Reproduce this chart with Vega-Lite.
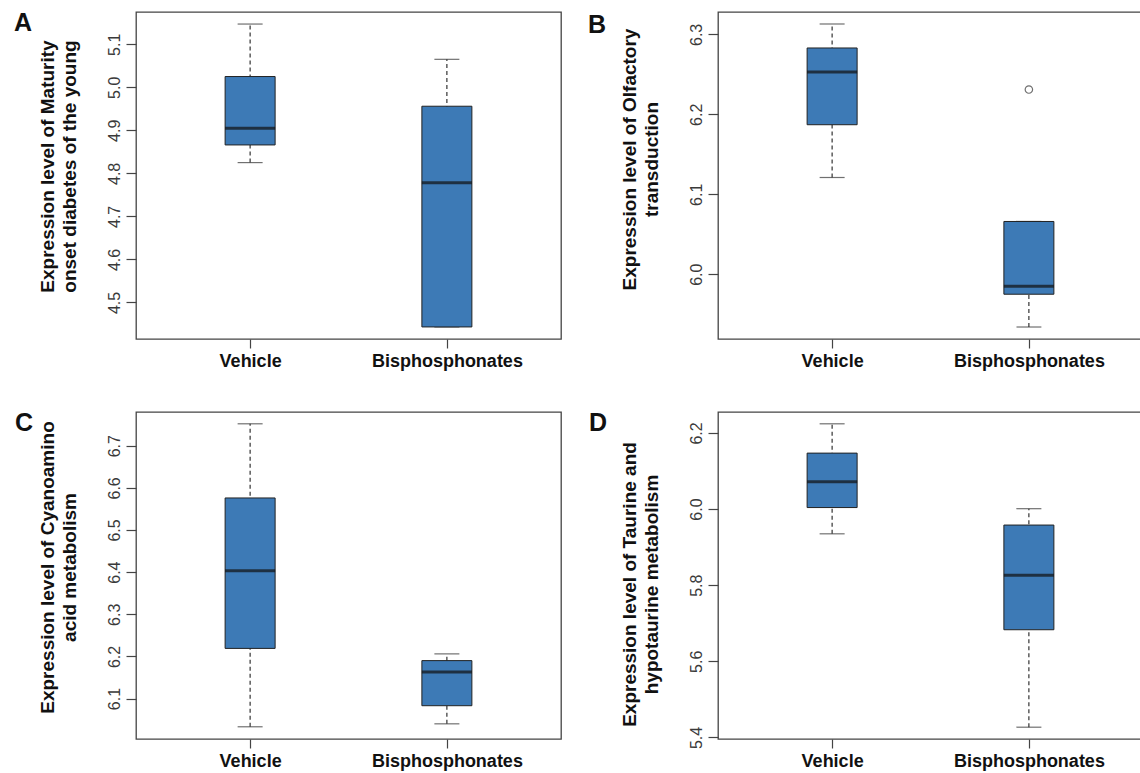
{
  "$schema": "https://vega.github.io/schema/vega-lite/v6.json",
  "background": "white",
  "padding": {"left": 13, "top": 10, "right": 0, "bottom": 0},
  "datasets": {
    "stats": [
      {"panel": "A", "group": "Vehicle", "lower": 4.825, "q1": 4.866, "median": 4.905, "q3": 5.025, "upper": 5.147},
      {"panel": "A", "group": "Bisphosphonates", "lower": 4.443, "q1": 4.443, "median": 4.778, "q3": 4.956, "upper": 5.065},
      {"panel": "B", "group": "Vehicle", "lower": 6.121, "q1": 6.187, "median": 6.253, "q3": 6.283, "upper": 6.313},
      {"panel": "B", "group": "Bisphosphonates", "lower": 5.934, "q1": 5.975, "median": 5.985, "q3": 6.066, "upper": 6.066},
      {"panel": "C", "group": "Vehicle", "lower": 6.033, "q1": 6.219, "median": 6.403, "q3": 6.576, "upper": 6.752},
      {"panel": "C", "group": "Bisphosphonates", "lower": 6.040, "q1": 6.083, "median": 6.163, "q3": 6.190, "upper": 6.206},
      {"panel": "D", "group": "Vehicle", "lower": 5.935, "q1": 6.004, "median": 6.072, "q3": 6.147, "upper": 6.224},
      {"panel": "D", "group": "Bisphosphonates", "lower": 5.427, "q1": 5.683, "median": 5.826, "q3": 5.958, "upper": 6.001}
    ],
    "outliers": [
      {"panel": "B", "group": "Bisphosphonates", "value": 6.231}
    ]
  },
  "concat": [
    {
      "title": {"text": "A", "anchor": "start", "frame": "group", "baseline": "top", "offset": 0, "dx": -122, "dy": 24, "fontSize": 25, "fontWeight": "bold", "color": "#111"},
      "width": 425, "height": 327,
      "data": {"name": "stats"},
      "transform": [{"filter": "datum.panel === 'A'"}],
      "encoding": {"x": {"field": "group", "type": "nominal", "sort": ["Vehicle", "Bisphosphonates"], "scale": {"type": "point", "padding": 0.58}, "title": null}},
      "layer": [
        {"mark": {"type": "rule", "strokeDash": [4, 3], "color": "#333", "strokeWidth": 1.2},
         "encoding": {"y": {"field": "lower", "type": "quantitative", "scale": {"domain": [4.415, 5.175], "nice": false, "zero": false},
           "axis": {"values": [4.5, 4.6, 4.7, 4.8, 4.9, 5.0, 5.1], "format": ".1f", "titleY": 154},
           "title": ["Expression level of Maturity", "onset diabetes of the young"]}, "y2": {"field": "upper"}}},
        {"mark": {"type": "tick", "size": 25, "thickness": 1.2, "color": "#333", "orient": "horizontal"}, "encoding": {"y": {"field": "lower", "type": "quantitative", "title": ["Expression level of Maturity", "onset diabetes of the young"]}}},
        {"mark": {"type": "tick", "size": 25, "thickness": 1.2, "color": "#333", "orient": "horizontal"}, "encoding": {"y": {"field": "upper", "type": "quantitative", "title": ["Expression level of Maturity", "onset diabetes of the young"]}}},
        {"mark": {"type": "bar", "width": 50, "fill": "#3d7ab6", "stroke": "#222", "strokeWidth": 1}, "encoding": {"y": {"field": "q1", "type": "quantitative", "title": ["Expression level of Maturity", "onset diabetes of the young"]}, "y2": {"field": "q3"}}},
        {"mark": {"type": "tick", "size": 50, "thickness": 3, "color": "#111", "orient": "horizontal"}, "encoding": {"y": {"field": "median", "type": "quantitative", "title": ["Expression level of Maturity", "onset diabetes of the young"]}}}
      ]
    },
    {
      "title": {"text": "B", "anchor": "start", "frame": "group", "baseline": "top", "offset": 0, "dx": -130, "dy": 26, "fontSize": 25, "fontWeight": "bold", "color": "#111"},
      "width": 425, "height": 327,
      "data": {"name": "stats"},
      "transform": [{"filter": "datum.panel === 'B'"}],
      "encoding": {"x": {"field": "group", "type": "nominal", "sort": ["Vehicle", "Bisphosphonates"], "scale": {"type": "point", "padding": 0.58}, "title": null}},
      "layer": [
        {"mark": {"type": "rule", "strokeDash": [4, 3], "color": "#333", "strokeWidth": 1.2},
         "encoding": {"y": {"field": "lower", "type": "quantitative", "scale": {"domain": [5.919, 6.328], "nice": false, "zero": false},
           "axis": {"values": [6.0, 6.1, 6.2, 6.3], "format": ".1f", "titleY": 147},
           "title": ["Expression level of Olfactory", "transduction"]}, "y2": {"field": "upper"}}},
        {"mark": {"type": "tick", "size": 25, "thickness": 1.2, "color": "#333", "orient": "horizontal"}, "encoding": {"y": {"field": "lower", "type": "quantitative", "title": ["Expression level of Olfactory", "transduction"]}}},
        {"mark": {"type": "tick", "size": 25, "thickness": 1.2, "color": "#333", "orient": "horizontal"}, "encoding": {"y": {"field": "upper", "type": "quantitative", "title": ["Expression level of Olfactory", "transduction"]}}},
        {"mark": {"type": "bar", "width": 50, "fill": "#3d7ab6", "stroke": "#222", "strokeWidth": 1}, "encoding": {"y": {"field": "q1", "type": "quantitative", "title": ["Expression level of Olfactory", "transduction"]}, "y2": {"field": "q3"}}},
        {"mark": {"type": "tick", "size": 50, "thickness": 3, "color": "#111", "orient": "horizontal"}, "encoding": {"y": {"field": "median", "type": "quantitative", "title": ["Expression level of Olfactory", "transduction"]}}},
        {"data": {"name": "outliers"}, "transform": [{"filter": "datum.panel === 'B'"}],
         "mark": {"type": "point", "filled": false, "stroke": "#333", "strokeWidth": 1.2, "size": 55, "shape": "circle"},
         "encoding": {"y": {"field": "value", "type": "quantitative", "title": ["Expression level of Olfactory", "transduction"]}}}
      ]
    },
    {
      "title": {"text": "C", "anchor": "start", "frame": "group", "baseline": "top", "offset": 0, "dx": -121, "dy": 24, "fontSize": 25, "fontWeight": "bold", "color": "#111"},
      "width": 425, "height": 327,
      "data": {"name": "stats"},
      "transform": [{"filter": "datum.panel === 'C'"}],
      "encoding": {"x": {"field": "group", "type": "nominal", "sort": ["Vehicle", "Bisphosphonates"], "scale": {"type": "point", "padding": 0.58}, "title": null}},
      "layer": [
        {"mark": {"type": "rule", "strokeDash": [4, 3], "color": "#333", "strokeWidth": 1.2},
         "encoding": {"y": {"field": "lower", "type": "quantitative", "scale": {"domain": [6.004, 6.780], "nice": false, "zero": false},
           "axis": {"values": [6.1, 6.2, 6.3, 6.4, 6.5, 6.6, 6.7], "format": ".1f", "titleY": 155},
           "title": ["Expression level of Cyanoamino", "acid metabolism"]}, "y2": {"field": "upper"}}},
        {"mark": {"type": "tick", "size": 25, "thickness": 1.2, "color": "#333", "orient": "horizontal"}, "encoding": {"y": {"field": "lower", "type": "quantitative", "title": ["Expression level of Cyanoamino", "acid metabolism"]}}},
        {"mark": {"type": "tick", "size": 25, "thickness": 1.2, "color": "#333", "orient": "horizontal"}, "encoding": {"y": {"field": "upper", "type": "quantitative", "title": ["Expression level of Cyanoamino", "acid metabolism"]}}},
        {"mark": {"type": "bar", "width": 50, "fill": "#3d7ab6", "stroke": "#222", "strokeWidth": 1}, "encoding": {"y": {"field": "q1", "type": "quantitative", "title": ["Expression level of Cyanoamino", "acid metabolism"]}, "y2": {"field": "q3"}}},
        {"mark": {"type": "tick", "size": 50, "thickness": 3, "color": "#111", "orient": "horizontal"}, "encoding": {"y": {"field": "median", "type": "quantitative", "title": ["Expression level of Cyanoamino", "acid metabolism"]}}}
      ]
    },
    {
      "title": {"text": "D", "anchor": "start", "frame": "group", "baseline": "top", "offset": 0, "dx": -129, "dy": 24, "fontSize": 25, "fontWeight": "bold", "color": "#111"},
      "width": 425, "height": 327,
      "data": {"name": "stats"},
      "transform": [{"filter": "datum.panel === 'D'"}],
      "encoding": {"x": {"field": "group", "type": "nominal", "sort": ["Vehicle", "Bisphosphonates"], "scale": {"type": "point", "padding": 0.58}, "title": null}},
      "layer": [
        {"mark": {"type": "rule", "strokeDash": [4, 3], "color": "#333", "strokeWidth": 1.2},
         "encoding": {"y": {"field": "lower", "type": "quantitative", "scale": {"domain": [5.396, 6.255], "nice": false, "zero": false},
           "axis": {"values": [5.4, 5.6, 5.8, 6.0, 6.2], "format": ".1f", "titleY": 172},
           "title": ["Expression level of Taurine and", "hypotaurine metabolism"]}, "y2": {"field": "upper"}}},
        {"mark": {"type": "tick", "size": 25, "thickness": 1.2, "color": "#333", "orient": "horizontal"}, "encoding": {"y": {"field": "lower", "type": "quantitative", "title": ["Expression level of Taurine and", "hypotaurine metabolism"]}}},
        {"mark": {"type": "tick", "size": 25, "thickness": 1.2, "color": "#333", "orient": "horizontal"}, "encoding": {"y": {"field": "upper", "type": "quantitative", "title": ["Expression level of Taurine and", "hypotaurine metabolism"]}}},
        {"mark": {"type": "bar", "width": 50, "fill": "#3d7ab6", "stroke": "#222", "strokeWidth": 1}, "encoding": {"y": {"field": "q1", "type": "quantitative", "title": ["Expression level of Taurine and", "hypotaurine metabolism"]}, "y2": {"field": "q3"}}},
        {"mark": {"type": "tick", "size": 50, "thickness": 3, "color": "#111", "orient": "horizontal"}, "encoding": {"y": {"field": "median", "type": "quantitative", "title": ["Expression level of Taurine and", "hypotaurine metabolism"]}}}
      ]
    }
  ],
  "columns": 2,
  "spacing": {"row": 73, "column": 157},
  "bounds": "flush",
  "align": "all",
  "config": {
    "font": "Liberation Sans",
    "view": {"stroke": "#444", "strokeWidth": 1.3},
    "axis": {"domain": false, "grid": false, "tickColor": "#444", "tickWidth": 1.2},
    "axisX": {"labelFontSize": 18, "labelFontWeight": "bold", "labelColor": "#111", "tickSize": 9, "labelPadding": 4, "labelAngle": 0},
    "axisY": {"labelFontSize": 16, "labelColor": "#3a3a3a", "labelAngle": -90, "labelAlign": "center", "labelBaseline": "bottom", "tickSize": 10, "labelPadding": 4,
      "titleFontSize": 19, "titleFontWeight": "bold", "titleColor": "#111", "titlePadding": 27, "titleLineHeight": 22}
  }
}
